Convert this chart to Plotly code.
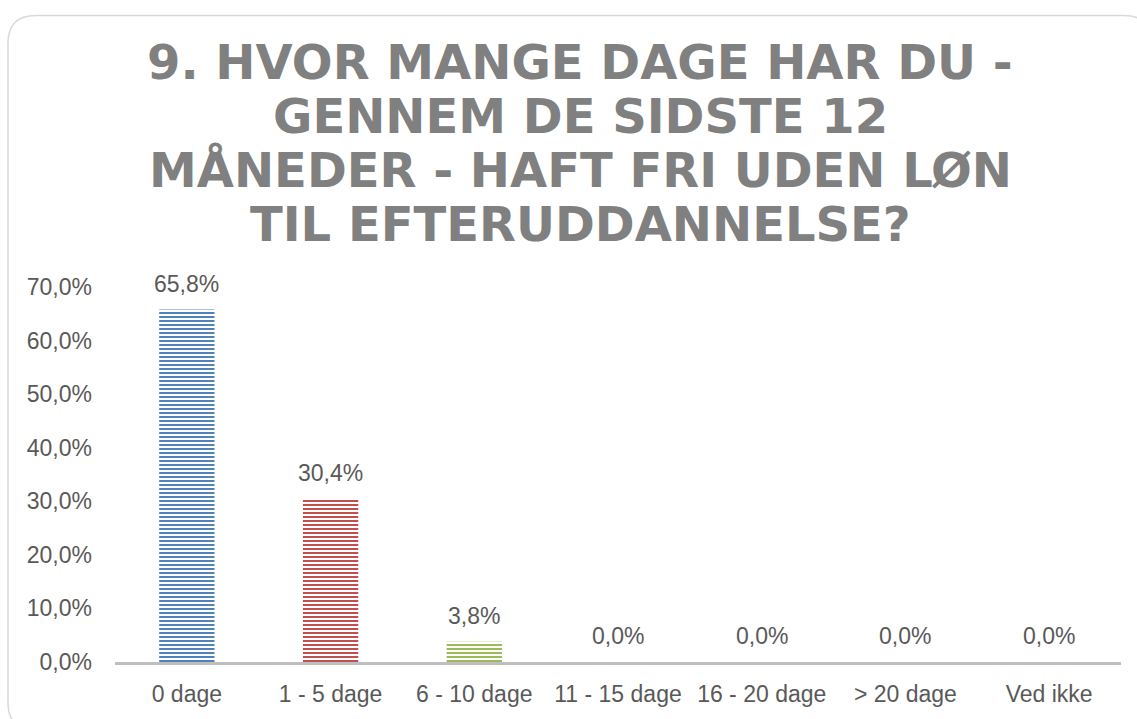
import plotly.graph_objects as go

categories = ["0 dage", "1 - 5 dage", "6 - 10 dage", "11 - 15 dage", "16 - 20 dage", "> 20 dage", "Ved ikke"]
values = [65.8, 30.4, 3.8, 0.0, 0.0, 0.0, 0.0]
tick_vals = [0, 10, 20, 30, 40, 50, 60, 70]
tick_text = ["0,0%", "10,0%", "20,0%", "30,0%", "40,0%", "50,0%", "60,0%", "70,0%"]
title_lines = ["9. HVOR MANGE DAGE HAR DU -", "GENNEM DE SIDSTE 12", "MÅNEDER - HAFT FRI UDEN LØN", "TIL EFTERUDDANNELSE?"]
dark_colors = ["#4F81BD", "#C0504D", "#9BBB59", "#4F81BD", "#C0504D", "#9BBB59", "#4F81BD"]
light_colors = ["#C5D5EA", "#EBC3C2", "#DCE8C6", "#C5D5EA", "#EBC3C2", "#DCE8C6", "#C5D5EA"]

W, H = 1137, 719
L, R, T, B = 115, 1121, 287, 667
PW, PH = R - L, B - T


def px(x):
    return (x - L) / PW


def py(y):
    return (B - y) / PH


text_color = "#595959"
font_main = "Liberation Sans, Arial, sans-serif"

fig = go.Figure()
fig.add_trace(go.Bar(
    x=categories,
    y=values,
    width=0.385,
    marker=dict(
        color=dark_colors,
        line=dict(width=0),
        pattern=dict(shape="-", size=4, solidity=0.5, fgcolor=dark_colors, bgcolor=light_colors, fillmode="replace"),
    ),
    hoverinfo="skip",
))

annotations = []
for c, v in zip(categories, values):
    annotations.append(dict(
        x=c, y=v, xref="x", yref="y",
        text=f"{v:.1f}".replace(".", ",") + "%",
        showarrow=False, yanchor="bottom", yshift=11,
        font=dict(family=font_main, size=23, color=text_color),
    ))

title_centers = [58.5, 113.5, 168.5, 223]
for line, yc in zip(title_lines, title_centers):
    annotations.append(dict(
        x=px(580), y=py(yc), xref="paper", yref="paper",
        text=line, showarrow=False, xanchor="center", yanchor="middle",
        font=dict(family="DejaVu Sans, sans-serif", size=48, color="#808080", weight="bold"),
    ))

# rounded frame
fx0, fy0, fx1, fy1, rad = 8, 12, 1152, 736, 28
path = (
    f"M {px(fx0)},{py(fy0 + rad)} "
    f"Q {px(fx0)},{py(fy0)} {px(fx0 + rad)},{py(fy0)} "
    f"L {px(fx1 - rad)},{py(fy0)} "
    f"Q {px(fx1)},{py(fy0)} {px(fx1)},{py(fy0 + rad)} "
    f"L {px(fx1)},{py(fy1 - rad)} "
    f"Q {px(fx1)},{py(fy1)} {px(fx1 - rad)},{py(fy1)} "
    f"L {px(fx0 + rad)},{py(fy1)} "
    f"Q {px(fx0)},{py(fy1)} {px(fx0)},{py(fy1 - rad)} Z"
)

fig.update_layout(
    width=W, height=H,
    margin=dict(l=L, r=W - R, t=T, b=H - B, pad=0),
    paper_bgcolor="white", plot_bgcolor="white",
    showlegend=False,
    annotations=annotations,
    shapes=[dict(type="path", path=path, xref="paper", yref="paper",
                 line=dict(color="#D9D9D9", width=1.5), layer="below")],
    xaxis=dict(
        showline=True, linecolor="#BFBFBF", linewidth=3,
        showgrid=False, ticks="", zeroline=False,
        ticklabelstandoff=9,
        tickfont=dict(family=font_main, size=23, color=text_color),
        fixedrange=True,
    ),
    yaxis=dict(
        range=[0, 70], tickmode="array", tickvals=tick_vals, ticktext=tick_text,
        showgrid=False, showline=False, zeroline=False, ticks="",
        ticklabelstandoff=22,
        tickfont=dict(family=font_main, size=23, color=text_color),
        fixedrange=True,
    ),
)

fig.write_html(
    "out.html",
    config={"displayModeBar": False},
    post_script="document.body.style.margin='0';document.body.style.overflow='hidden';",
)
